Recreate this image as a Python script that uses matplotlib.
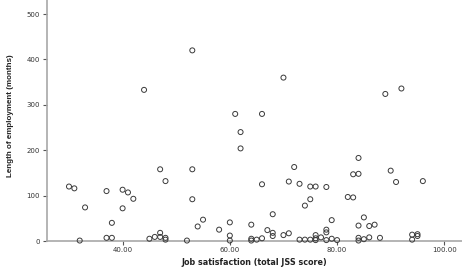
import matplotlib
matplotlib.use("Agg")
import matplotlib.pyplot as plt

# Job satisfaction (total JSS score) vs length of employment (months)
jss = [30, 31, 33, 32, 37, 40, 41, 42, 40, 38, 37, 38,
       44,
       45, 46, 47, 47, 47, 48, 48, 48,
       52, 53, 53, 55, 54, 53, 58, 60, 60, 60,
       61, 62, 62,
       64, 64, 64, 65, 66, 66, 66, 67, 68, 68, 68, 70, 70, 71, 71, 72, 73, 73,
       74, 74, 75, 76, 75, 75, 76, 76, 76, 77,
       78, 78, 78, 78, 79, 79, 80, 82, 83, 83, 84, 84, 84, 84, 84,
       85, 85, 86, 86, 87, 88, 89, 90, 91, 92, 94, 94, 95, 95, 96]
months = [120, 116, 74, 1, 110, 113, 107, 93, 72, 40, 7, 7,
          333,
          5, 9, 9, 18, 158, 132, 7, 3,
          1, 158, 92, 47, 32, 420, 25, 41, 12, 1,
          280, 240, 204,
          36, 5, 1, 3, 6, 125, 280, 24, 59, 18, 11, 13, 360, 17, 131, 163, 126, 3,
          3, 78, 120, 120, 92, 3, 13, 6, 2, 8,
          119, 25, 19, 2, 46, 5, 2, 97, 96, 147, 148, 183, 34, 7, 1,
          52, 4, 33, 8, 36, 7, 324, 155, 130, 336, 14, 3, 15, 11, 132]

xticks = [40, 60, 80, 100]
xtick_labels = ["40.00", "60.00", "80.00", "100.00"]
yticks = [0, 100, 200, 300, 400, 500]
ytick_labels = ["0", "100", "200", "300", "400", "500"]

fig = plt.figure(figsize=(4.62, 2.69), dpi=100)
ax = fig.add_axes([47 / 462, 28 / 269, 415 / 462, 241 / 269])

ax.scatter(jss, months, s=13, facecolors="none", edgecolors="#3a3a3a",
           linewidths=0.7, zorder=3, clip_on=False)

ax.set_xlim(25.9, 103.3)
ax.set_ylim(0, 531)

ax.set_xticks(xticks)
ax.set_xticklabels(xtick_labels)
ax.set_yticks(yticks)
ax.set_yticklabels(ytick_labels)

for s in ("top", "right"):
    ax.spines[s].set_visible(False)
for s in ("left", "bottom"):
    ax.spines[s].set_color("#a8a8a8")
    ax.spines[s].set_linewidth(1.2)

ax.tick_params(axis="y", length=3, width=0.8, color="#555555",
               labelsize=5, labelcolor="#333333", pad=2)
ax.tick_params(axis="x", length=3, width=0.8, color="#555555",
               labelsize=5, labelcolor="#333333", pad=1)

ax.set_xlabel("Job satisfaction (total JSS score)", fontsize=5.8, fontweight="bold",
              color="#222222", labelpad=4, family=["DejaVu Sans"])
ax.set_ylabel("Length of employment (months)", fontsize=5.8, fontweight="bold",
              color="#222222",
              family=["Liberation Sans Narrow", "Liberation Sans", "DejaVu Sans"])
ax.yaxis.set_label_coords(-16 / 415 * 1.0 - 0.04, 0.52)

fig.savefig("out.png", dpi=100)
